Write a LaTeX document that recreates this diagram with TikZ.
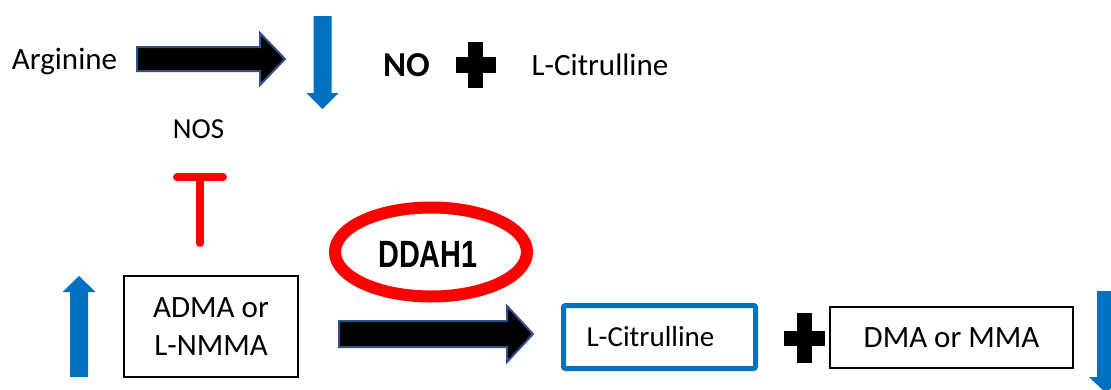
\documentclass[tikz,border=0pt]{standalone}
\usepackage{fontspec}
\setmainfont{Carlito}
\newfontfamily\arialf{Liberation Sans}
\definecolor{oblue}{HTML}{0070C0}
\definecolor{ored}{HTML}{FF0000}
\definecolor{outl}{HTML}{2F528F}
\tikzset{
  txt/.style={inner sep=0pt, anchor=base, font=\fontsize{31}{38}\selectfont},
  blockarrow/.style={fill=black, draw=outl, line width=2, line join=miter},
  bluearrow/.style={fill=oblue, draw=none},
  plusbar/.style={fill=black, draw=none},
  plainbox/.style={draw=black, line width=1.6, inner sep=0pt, font=\fontsize{31}{38}\selectfont, align=center},
}
\begin{document}
\begin{tikzpicture}[x=1pt,y=-1pt]
\useasboundingbox (0,0) rectangle (1111,389);
% top row
\node[txt] (arg) at (64.5,69) {Arginine};
\draw[blockarrow] (137,47) -- (260,47) -- (260,33) -- (285,59) -- (260,85) -- (260,71) -- (137,71) -- cycle;
\fill[bluearrow] (313.5,16) -- (331.5,16) -- (331.5,93) -- (338.5,93) -- (322.5,109) -- (306.5,93) -- (313.5,93) -- cycle;
\node[txt, font=\fontsize{35}{40}\selectfont\bfseries] (no) at (406.5,76) {NO};
\fill[plusbar] (468,42) rectangle (483,88);
\fill[plusbar] (456,57) rectangle (496,73);
\node[txt] (cit1) at (600,75) {L-Citrulline};
% NOS and inhibition
\node[txt, font=\fontsize{29}{34}\selectfont] (nos) at (198.5,138) {NOS};
\coordinate (tbarL) at (177,177);
\coordinate (tbarR) at (223,177);
\coordinate (ttop) at (200,181);
\coordinate (tbot) at (200,243);
\draw[ored, line width=8, line cap=round] (tbarL) -- (tbarR);
\draw[ored, line width=8, line cap=round] (ttop) -- (tbot);
% bottom row
\fill[bluearrow] (70,377) -- (88,377) -- (88,292) -- (95.5,292) -- (79,276) -- (62.5,292) -- (70,292) -- cycle;
\node[plainbox, minimum width=173.5, minimum height=101] (adma) at (211,326.5) {ADMA or\\L-NMMA};
\draw[ored, line width=12] (431,252) ellipse [x radius=96, y radius=44.5];
\node[txt, font=\arialf\fontsize{38}{44}\selectfont\bfseries] (ddah) at (428,267) {\scalebox{0.76}[1]{DDAH1}};
\draw[blockarrow] (339,321) -- (507,321) -- (507,306) -- (533,334) -- (507,362) -- (507,347) -- (339,347) -- cycle;
\node[draw=oblue, line width=5, rounded corners=2, minimum width=192, minimum height=63, inner sep=0pt] (citbox) at (659.5,337) {};
\node[txt, font=\fontsize{29}{34}\selectfont] (cit2) at (650.5,346) {L-Citrulline};
\fill[plusbar] (797,313) rectangle (812,363);
\fill[plusbar] (784,331) rectangle (825,346);
\node[plainbox, minimum width=243, minimum height=61] (dma) at (951.5,337.5) {DMA or MMA};
\begin{scope}
\clip (0,0) rectangle (1111,389);
\fill[bluearrow] (1097,291) -- (1115,291) -- (1115,377) -- (1123,377) -- (1106,393) -- (1089,377) -- (1097,377) -- cycle;
\end{scope}
\end{tikzpicture}
\end{document}
